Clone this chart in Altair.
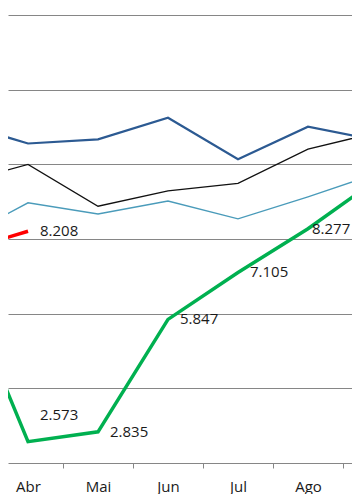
import altair as alt
import pandas as pd

months = ["Mar", "Abr", "Mai", "Jun", "Jul", "Ago", "Set"]
month_num = [3, 4, 5, 6, 7, 8, 9]

serie_azul = [11.12, 10.56, 10.67, 11.25, 10.14, 11.01, 10.64]
serie_preta = [9.49, 10.00, 8.88, 9.29, 9.49, 10.41, 10.86]
serie_turquesa = [7.97, 8.97, 8.67, 9.02, 8.54, 9.13, 9.76]
serie_vermelha = [7.65, 8.208]
serie_verde = [7.10, 2.573, 2.835, 5.847, 7.105, 8.277, 9.61]

verde_rotulos = ["", "2.573", "2.835", "5.847", "7.105", "8.277", ""]
vermelha_rotulos = ["", "8.208"]

FONT = "Open Sans"

x_enc = alt.X(
    "m:Q",
    scale=alt.Scale(domain=[3.714, 8.629], nice=False, zero=False),
    axis=alt.Axis(
        values=[4.5, 5.5, 6.5, 7.5, 8.5],
        labelExpr="[" + ",".join("'%s'" % m for m in months) + "][floor(datum.value) - 3]",
        labelOffset=-35,
        labelFlush=False,
        labelOverlap=False,
        labelBound=False,
        labelFont=FONT,
        labelFontSize=15,
        labelColor="#1a1a1a",
        labelPadding=11,
        tickSize=5,
        tickColor="#868686",
        tickWidth=1,
        domainColor="#868686",
        domainWidth=1,
        grid=False,
        title=None,
    ),
)
y_enc = alt.Y(
    "v:Q",
    scale=alt.Scale(domain=[2, 14.19], nice=False, zero=False),
    axis=alt.Axis(
        values=[4, 6, 8, 10, 12, 14],
        labels=False,
        ticks=False,
        domain=False,
        grid=True,
        gridColor="#868686",
        gridWidth=1,
        title=None,
    ),
)


def frame(vals, labels=None):
    d = pd.DataFrame({"m": month_num[: len(vals)], "v": vals})
    if labels is not None:
        d["t"] = labels
    return d


def line(vals, color, width):
    return alt.Chart(frame(vals)).mark_line(
        color=color, strokeWidth=width, clip=True
    ).encode(x=x_enc, y=y_enc)


layers = [
    line(serie_azul, "#2C5A92", 2.2),
    line(serie_preta, "#111111", 1.3),
    line(serie_turquesa, "#4A9BBA", 1.4),
    line(serie_vermelha, "#FF0000", 3.5),
    line(serie_verde, "#00B050", 3.5),
]

verde_df = frame(serie_verde, verde_rotulos)
verm_df = frame(serie_vermelha, vermelha_rotulos)

txt_props = dict(align="left", baseline="middle", font=FONT, fontSize=15,
                 color="#1a1a1a", dx=12, clip=True)


def labels(df, flt, **over):
    return (
        alt.Chart(df)
        .mark_text(**dict(txt_props, **over))
        .encode(x=x_enc, y=y_enc, text="t:N")
        .transform_filter(flt)
    )


layers.append(labels(verm_df, "datum.t != ''"))
layers.append(labels(verde_df, "datum.t != '' && datum.m != 4 && datum.m != 8"))
layers.append(labels(verde_df, "datum.m == 4", dy=-27))
layers.append(labels(verde_df, "datum.m == 8", dx=4))

chart = alt.layer(*layers).properties(
    width=344, height=455, padding=0
).configure_view(strokeWidth=0)

chart.save("out.html", embed_options={"renderer": "svg", "actions": False})
